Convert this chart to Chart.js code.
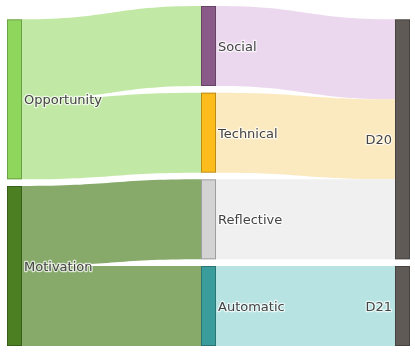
<!DOCTYPE html>
<html>
<head>
<meta charset="utf-8">
<script src="https://cdn.jsdelivr.net/npm/chart.js@4.4.0/dist/chart.umd.min.js"></script>
<style>
    html, body { margin: 0; padding: 0; background: #fff; }
    #wrap { width: 415px; height: 353px; }
</style>
</head>
<body>
<div id="wrap"><canvas id="sankeyChart"></canvas></div>
<script>
// =============== Données
const nodeNames = ['Opportunity', 'Motivation', 'Social', 'Technical', 'Reflective', 'Automatic', 'D20', 'D21'];
const nodeColumns = [0, 0, 1, 1, 1, 1, 2, 2];
const nodeColors = ['#8fd75c', '#4b7f22', '#8a5a88', '#fbbc1c', '#d3d3d3', '#3b9d9b', '#5f5a56', '#5f5a56'];
const linkColors = ['#c2e8a5', '#87aa6a', '#ecd8ee', '#fbe9bf', '#f0f0f0', '#b8e3e3', '#5f5a56', '#5f5a56'];

const flowFrom = ['Opportunity', 'Opportunity', 'Motivation', 'Motivation', 'Social', 'Technical', 'Reflective', 'Automatic'];
const flowTo = ['Social', 'Technical', 'Reflective', 'Automatic', 'D20', 'D20', 'D20', 'D21'];
const flowValues = [1, 1, 1, 1, 1, 1, 1, 1];

// =============== Mise en page (en unités de valeur)
const GAP = 1 / 12;
const NODE_W = 15;

const nodeValue = nodeNames.map((n) => {
    let inV = 0, outV = 0;
    flowTo.forEach((t, i) => { if (t === n) inV += flowValues[i]; });
    flowFrom.forEach((f, i) => { if (f === n) outV += flowValues[i]; });
    return Math.max(inV, outV);
});

const columns = [...new Set(nodeColumns)];
const colTotal = columns.map((c) => {
    const idx = nodeNames.map((_, i) => i).filter((i) => nodeColumns[i] === c);
    return idx.reduce((s, i) => s + nodeValue[i], 0) + (idx.length - 1) * GAP;
});
const yMax = Math.max(...colTotal);

const nodeTop = [];
columns.forEach((c, ci) => {
    let y = yMax - colTotal[ci];
    nodeNames.forEach((_, i) => {
        if (nodeColumns[i] !== c) return;
        nodeTop[i] = y;
        y += nodeValue[i] + GAP;
    });
});

const sankeyPlugin = {
    id: 'sankey',
    afterDatasetsDraw(chart) {
        const ctx = chart.ctx;
        const xs = chart.scales.x, ys = chart.scales.y;
        const outOff = nodeNames.map(() => 0);
        const inOff = nodeNames.map(() => 0);

        // liens
        flowFrom.forEach((f, i) => {
            const s = nodeNames.indexOf(f), t = nodeNames.indexOf(flowTo[i]);
            const v = flowValues[i];
            const x0 = xs.getPixelForValue(nodeColumns[s]) + NODE_W;
            const x1 = xs.getPixelForValue(nodeColumns[t]);
            const s0 = ys.getPixelForValue(nodeTop[s] + outOff[s]);
            const s1 = ys.getPixelForValue(nodeTop[s] + outOff[s] + v);
            const t0 = ys.getPixelForValue(nodeTop[t] + inOff[t]);
            const t1 = ys.getPixelForValue(nodeTop[t] + inOff[t] + v);
            outOff[s] += v;
            inOff[t] += v;
            const xm = (x0 + x1) / 2;
            ctx.save();
            ctx.beginPath();
            ctx.moveTo(x0, s0);
            ctx.bezierCurveTo(xm, s0, xm, t0, x1, t0);
            ctx.lineTo(x1, t1);
            ctx.bezierCurveTo(xm, t1, xm, s1, x0, s1);
            ctx.closePath();
            ctx.fillStyle = linkColors[s];
            ctx.fill();
            ctx.restore();
        });

        // noeuds
        nodeNames.forEach((n, i) => {
            const x = xs.getPixelForValue(nodeColumns[i]);
            const y0 = ys.getPixelForValue(nodeTop[i]);
            const y1 = ys.getPixelForValue(nodeTop[i] + nodeValue[i]);
            ctx.save();
            ctx.fillStyle = nodeColors[i];
            ctx.fillRect(x, y0, NODE_W, y1 - y0);
            ctx.strokeStyle = 'rgba(0,0,0,0.25)';
            ctx.lineWidth = 1;
            ctx.strokeRect(x + 0.5, y0 + 0.5, NODE_W - 1, y1 - y0 - 1);
            ctx.restore();
        });

        // étiquettes
        ctx.save();
        ctx.font = '13px "DejaVu Sans", Verdana, sans-serif';
        ctx.textBaseline = 'middle';
        ctx.lineJoin = 'round';
        nodeNames.forEach((n, i) => {
            const x = xs.getPixelForValue(nodeColumns[i]);
            const yc = ys.getPixelForValue(nodeTop[i] + nodeValue[i] / 2) + 1.5;
            const last = nodeColumns[i] === columns[columns.length - 1];
            const tx = last ? x - 3 : x + NODE_W + 2;
            ctx.textAlign = last ? 'right' : 'left';
            ctx.strokeStyle = 'rgba(255,255,255,0.7)';
            ctx.lineWidth = 2.5;
            ctx.strokeText(n, tx, yc);
            ctx.fillStyle = '#444';
            ctx.fillText(n, tx, yc);
        });
        ctx.restore();
    }
};

// =============== Sankey
const sankey_chart = document.getElementById('sankeyChart');

new Chart(sankey_chart, {
    type: 'scatter',
    data: { datasets: [{ data: [] }] },
    options: {
        responsive: true,
        maintainAspectRatio: false,
        animation: false,
        layout: { padding: { left: 7, right: 20, top: 6, bottom: 7 } },
        scales: {
            x: { type: 'linear', min: 0, max: 2, display: false },
            y: { type: 'linear', min: 0, max: yMax, reverse: true, display: false }
        },
        plugins: { legend: { display: false }, tooltip: { enabled: false } }
    },
    plugins: [sankeyPlugin]
});
</script>
</body>
</html>
